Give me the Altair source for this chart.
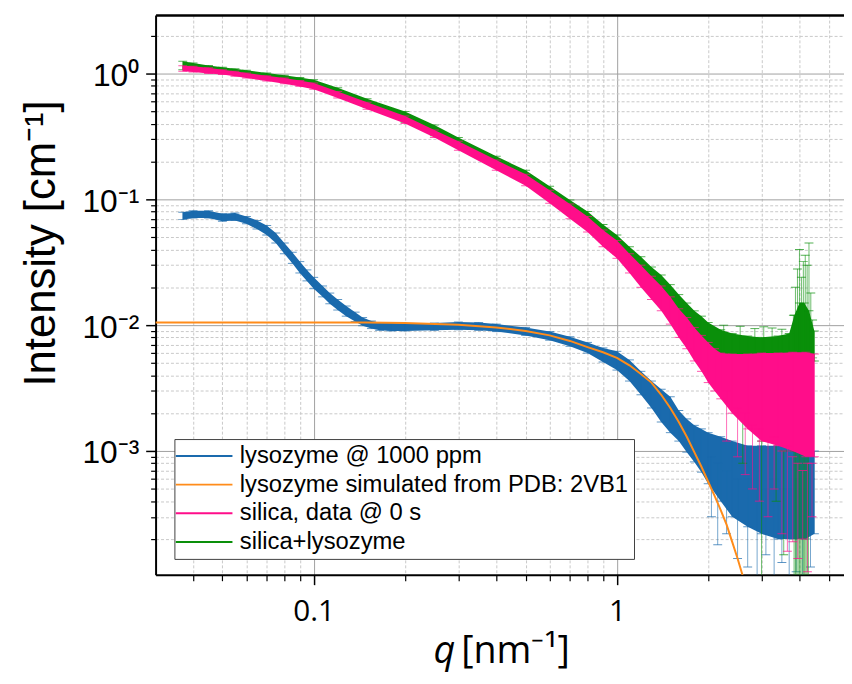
import altair as alt
import pandas as pd

SERIES = ["lysozyme @ 1000 ppm", "lysozyme simulated from PDB: 2VB1",
          "silica, data @ 0 s", "silica+lysozyme"]
COLORS = ["#1a6aad", "#ff8c1a", "#ff0d8a", "#0a8f0a"]

X_DOMAIN = [0.0301, 5.61]
Y_DOMAIN = [1.04e-4, 2.91]
X_MAJOR = [0.1, 1]
X_MINOR = [0.04, 0.05, 0.06, 0.07, 0.08, 0.09, 0.2, 0.3, 0.4, 0.5, 0.6, 0.7,
           0.8, 0.9, 2, 3, 4, 5]
Y_MAJOR = [0.001, 0.01, 0.1, 1]
Y_MINOR = [2e-4, 3e-4, 4e-4, 5e-4, 6e-4, 7e-4, 8e-4, 9e-4,
           2e-3, 3e-3, 4e-3, 5e-3, 6e-3, 7e-3, 8e-3, 9e-3,
           0.02, 0.03, 0.04, 0.05, 0.06, 0.07, 0.08, 0.09,
           0.2, 0.3, 0.4, 0.5, 0.6, 0.7, 0.8, 0.9, 2]

# lysozyme @ 1000 ppm (error band: low / high)
LYS_Q = [0.037, 0.040, 0.045, 0.050, 0.055, 0.060, 0.065, 0.070, 0.075, 0.080,
         0.085, 0.090, 0.095, 0.100, 0.107, 0.113, 0.120, 0.128, 0.137, 0.145,
         0.155, 0.165, 0.180, 0.200, 0.250, 0.300, 0.350, 0.400, 0.500, 0.600,
         0.700, 0.800, 0.900, 1.000, 1.100, 1.200, 1.300, 1.400, 1.500, 1.600,
         1.700, 1.800, 1.900, 2.000, 2.200, 2.400, 2.700, 3.000, 3.400, 3.800,
         4.200, 4.480]
LYS_LO = [0.069, 0.071, 0.071, 0.067, 0.068, 0.064, 0.058, 0.052, 0.045, 0.037,
          0.031, 0.026, 0.0225, 0.0195, 0.0168, 0.0148, 0.0132, 0.0118, 0.0107, 0.0099,
          0.0094, 0.0091, 0.0090, 0.0090, 0.0091, 0.0092, 0.0091, 0.0089, 0.0083, 0.0076,
          0.0068, 0.0060, 0.0051, 0.0044, 0.0036, 0.0028, 0.0022, 0.0017, 0.0014, 0.0012,
          0.00098, 0.00082, 0.00068, 0.00055, 0.00040, 0.00030, 0.00025, 0.00022, 0.00020, 0.00020,
          0.00020, 0.00022]
LYS_HI = [0.079, 0.081, 0.081, 0.077, 0.078, 0.073, 0.068, 0.062, 0.054, 0.045,
          0.038, 0.032, 0.0275, 0.0240, 0.0205, 0.0180, 0.0160, 0.0142, 0.0127, 0.0115,
          0.0108, 0.0105, 0.0104, 0.0103, 0.0104, 0.0106, 0.0105, 0.0102, 0.0096, 0.0089,
          0.0081, 0.0073, 0.0066, 0.0062, 0.0053, 0.0043, 0.0036, 0.0031, 0.0027, 0.0021,
          0.0018, 0.0016, 0.0015, 0.0014, 0.0013, 0.0012, 0.0011, 0.0011, 0.0011, 0.0011,
          0.0010, 0.0010]
LYS_OUT_Q = [2.05, 2.15, 2.30, 2.50, 2.70, 2.90, 3.10, 3.30, 3.50, 3.70, 3.90, 4.10, 4.35]
LYS_OUT_LO = [0.00030, 0.00018, 0.00022, 0.00014, 0.00012, 0.00010, 0.00015, 0.00010,
              0.00013, 0.00010, 0.00011, 0.00010, 0.00012]
LYS_OUT_HI = [0.0009, 0.0008, 0.0007, 0.0006, 0.0006, 0.0007, 0.0005, 0.0006,
              0.0005, 0.0005, 0.0006, 0.0005, 0.0006]

# lysozyme simulated from PDB: 2VB1
SIM_Q = [0.030, 0.050, 0.100, 0.150, 0.200, 0.300, 0.400, 0.500, 0.600, 0.700,
         0.800, 0.900, 1.000, 1.100, 1.200, 1.300, 1.400, 1.500, 1.600, 1.700,
         1.800, 1.900, 2.000, 2.100, 2.200, 2.300, 2.400, 2.500, 2.600, 2.700]
SIM_I = [0.0105, 0.0105, 0.0105, 0.0105, 0.0104, 0.0101, 0.0096, 0.0090, 0.0083, 0.0075,
         0.0067, 0.0061, 0.0055, 0.0048, 0.0041, 0.0035, 0.0028, 0.0022, 0.0017, 0.0013,
         0.00098, 0.00075, 0.00057, 0.00044, 0.00034, 0.00026, 0.00019, 0.00014, 0.000102, 0.000073]

# silica, data @ 0 s
SIL_Q = [0.037, 0.040, 0.045, 0.050, 0.055, 0.060, 0.070, 0.080, 0.090, 0.100,
         0.120, 0.150, 0.200, 0.250, 0.300, 0.400, 0.500, 0.600, 0.700, 0.800,
         0.900, 1.000, 1.100, 1.200, 1.300, 1.400, 1.500, 1.600, 1.700, 1.800,
         1.900, 2.000, 2.100, 2.200, 2.400, 2.700, 3.000, 3.400, 3.800, 4.200,
         4.480]
SIL_LO = [1.04, 1.03, 1.00, 0.98, 0.95, 0.92, 0.87, 0.83, 0.79, 0.75,
          0.64, 0.52, 0.40, 0.31, 0.245, 0.17, 0.128, 0.093, 0.070, 0.055,
          0.042, 0.034, 0.026, 0.020, 0.016, 0.013, 0.0102, 0.0080, 0.0065, 0.0052,
          0.0043, 0.0035, 0.0030, 0.0026, 0.0020, 0.0015, 0.0012, 0.0011, 0.0010, 0.0009,
          0.0009]
SIL_HI = [1.15, 1.14, 1.11, 1.07, 1.04, 1.01, 0.96, 0.92, 0.88, 0.84,
          0.72, 0.59, 0.46, 0.355, 0.29, 0.205, 0.158, 0.118, 0.092, 0.073,
          0.057, 0.047, 0.037, 0.030, 0.0245, 0.0205, 0.0168, 0.0135, 0.0115, 0.0096,
          0.0083, 0.0073, 0.0065, 0.0060, 0.0059, 0.0059, 0.0060, 0.0060, 0.0061, 0.0061,
          0.0059]
SIL_OUT_Q = [2.30, 2.50, 2.65, 2.80, 2.95, 3.15, 3.30, 3.50, 3.65, 3.80, 3.95, 4.10, 4.25, 4.40]
SIL_OUT_LO = [0.0012, 0.0009, 0.00065, 0.0005, 0.0004, 0.0003, 0.0005, 0.00022,
              0.00016, 0.00019, 0.00014, 0.0002, 0.00011, 0.0003]
SIL_OUT_HI = [0.0030, 0.0022, 0.0020, 0.0016, 0.0015, 0.0012, 0.0013, 0.0010,
              0.0011, 0.0009, 0.0008, 0.0007, 0.0008, 0.0008]

# silica+lysozyme
MIX_Q = [0.037, 0.040, 0.045, 0.050, 0.055, 0.060, 0.070, 0.080, 0.090, 0.100,
         0.120, 0.150, 0.200, 0.250, 0.300, 0.400, 0.500, 0.600, 0.700, 0.800,
         0.900, 1.000, 1.100, 1.200, 1.300, 1.400, 1.500, 1.600, 1.700, 1.800,
         1.900, 2.000, 2.200, 2.400, 2.700, 3.000, 3.400, 3.700, 3.850, 4.000,
         4.150, 4.300, 4.480]
MIX_LO = [1.07, 1.06, 1.04, 1.01, 0.98, 0.95, 0.90, 0.86, 0.82, 0.78,
          0.67, 0.54, 0.41, 0.32, 0.26, 0.18, 0.137, 0.100, 0.077, 0.060,
          0.046, 0.037, 0.029, 0.023, 0.0185, 0.0152, 0.0124, 0.0102, 0.0086, 0.0074,
          0.0066, 0.0060, 0.0055, 0.0053, 0.0052, 0.0052, 0.0052, 0.0052, 0.0048, 0.0046,
          0.0046, 0.0048, 0.0052]
MIX_HI = [1.25, 1.21, 1.16, 1.12, 1.09, 1.06, 1.01, 0.97, 0.93, 0.89,
          0.77, 0.63, 0.50, 0.39, 0.31, 0.22, 0.170, 0.127, 0.099, 0.080,
          0.063, 0.052, 0.042, 0.035, 0.029, 0.025, 0.021, 0.0175, 0.0150, 0.0130,
          0.0118, 0.0105, 0.0092, 0.0086, 0.0082, 0.0080, 0.0082, 0.0086, 0.0120, 0.0150,
          0.0150, 0.0130, 0.0090]
MIX_OUT_Q = [3.82, 3.88, 3.94, 4.00, 4.06, 4.12, 4.18, 4.24, 4.30, 4.36, 4.42,
             2.25, 2.55, 2.85, 3.05, 3.25, 3.50,
             3.84, 3.88, 3.92, 3.96, 4.00, 4.04, 4.08, 4.12, 4.16, 4.20, 4.24, 4.28,
             3.00, 3.55, 2.60, 3.35]
MIX_OUT_LO = [0.0055, 0.0050, 0.0050, 0.0048, 0.0048, 0.0046, 0.0046, 0.0048, 0.0050, 0.0052,
              0.0055,
              0.0058, 0.0060, 0.0058, 0.0060, 0.0058, 0.0060,
              0.00009, 0.00009, 0.00009, 0.00009, 0.00009, 0.00009, 0.00009, 0.00009,
              0.00009, 0.00009, 0.00009, 0.00009,
              0.00009, 0.00015, 0.0008, 0.0004]
MIX_OUT_HI = [0.0120, 0.0200, 0.0280, 0.0400, 0.0240, 0.0320, 0.0360, 0.0300, 0.0450, 0.0180,
              0.0110,
              0.0100, 0.0098, 0.0094, 0.0097, 0.0095, 0.0093,
              0.0010, 0.0011, 0.0010, 0.0012, 0.0011, 0.0010, 0.0012, 0.0011,
              0.0010, 0.0011, 0.0012, 0.0010,
              0.0012, 0.0010, 0.0030, 0.0015]


def band_df(name, q, lo, hi):
    return pd.DataFrame({"series": name, "q": q, "lo": lo, "hi": hi})


def caps_df(bars):
    a = bars[["series", "q", "lo"]].rename(columns={"lo": "v"})
    b = bars[["series", "q", "hi"]].rename(columns={"hi": "v"})
    return pd.concat([a, b], ignore_index=True)


XS = alt.Scale(type="log", domain=X_DOMAIN, nice=False)
YS = alt.Scale(type="log", domain=Y_DOMAIN, nice=False)
CS = alt.Scale(domain=SERIES, range=COLORS)
NOLEG = alt.Color("series:N", scale=CS, legend=None)

AX_X_MAJOR = alt.Axis(
    values=X_MAJOR, orient="bottom", labelExpr="datum.value < 0.5 ? '0.1' : '1'",
    grid=True, gridColor="#a0a0a0", gridWidth=1,
    domain=True, domainColor="black", domainWidth=2,
    ticks=True, tickColor="black", tickWidth=1.5, tickSize=10,
    labelFont="Open Sans", labelFontSize=30, labelColor="black", labelPadding=12,
    labelFlush=False, labelOverlap=False,
    title="q", titleFont="Open Sans", titleFontSize=38, titleFontStyle="italic",
    titleFontWeight="normal", titleColor="black", titleX=280, titleY=89,
    titleAlign="left", titleBaseline="alphabetic")
AX_X_MINOR = alt.Axis(
    values=X_MINOR, orient="bottom", grid=True, gridColor="#c8c8c8", gridDash=[3, 2],
    gridWidth=1, domain=False, ticks=True, tickColor="black", tickWidth=1.2, tickSize=6,
    labels=False,
    title="[nm⁻¹]", titleFont="Open Sans", titleFontSize=38, titleFontWeight="normal",
    titleColor="black", titleX=308, titleY=89, titleAlign="left",
    titleBaseline="alphabetic")
AX_X_TOP = alt.Axis(orient="top", grid=False, ticks=False, labels=False, domain=True,
                    domainColor="black", domainWidth=2.5, title=None)
AX_Y_MAJOR = alt.Axis(
    values=Y_MAJOR, orient="left",
    labelExpr="datum.value >= 0.5 ? '10⁰' : datum.value >= 0.05 ? '10⁻¹' : "
              "datum.value >= 0.005 ? '10⁻²' : '10⁻³'",
    grid=True, gridColor="#a0a0a0", gridWidth=1,
    domain=True, domainColor="black", domainWidth=2,
    ticks=True, tickColor="black", tickWidth=1.5, tickSize=10,
    labelFont="Liberation Sans", labelFontSize=32, labelColor="black", labelPadding=7,
    labelOffset=2, labelOverlap=False,
    title="Intensity [cm⁻¹]", titleFont="Liberation Sans", titleFontSize=44,
    titleFontWeight="normal", titleColor="black", titleX=-102, titleY=230,
    titleAngle=270, titleAlign="center", titleBaseline="alphabetic")
AX_Y_MINOR = alt.Axis(
    values=Y_MINOR, orient="left", grid=True, gridColor="#c8c8c8", gridDash=[3, 2],
    gridWidth=1, domain=False, ticks=True, tickColor="black", tickWidth=1.2, tickSize=5,
    labels=False, title=None)

LEGEND = alt.Legend(
    title=None, orient="none", legendX=19, legendY=428, direction="vertical",
    fillColor="white", strokeColor="#404040", padding=5, rowPadding=5,
    labelFont="Liberation Sans", labelFontSize=24, labelColor="black", labelLimit=600,
    symbolType="M-4.4,0H4.4", symbolSize=169, symbolStrokeWidth=2,
    symbolOffset=13, labelOffset=24, cornerRadius=0)


def series_layers(name, q, lo, hi, oq, olo, ohi, x_axis=None, y_axis=None):
    band = band_df(name, q, lo, hi)
    bars = pd.concat([band, band_df(name, oq, olo, ohi)], ignore_index=True)
    caps = caps_df(bars)
    area = alt.Chart(band).mark_area(clip=True, opacity=1).encode(
        x=alt.X("q:Q", scale=XS, axis=x_axis),
        y=alt.Y("lo:Q", scale=YS, axis=y_axis),
        y2="hi:Q", color=NOLEG)
    rules = alt.Chart(bars).mark_rule(clip=True, strokeWidth=1, opacity=0.6).encode(
        x=alt.X("q:Q", scale=XS, axis=None),
        y=alt.Y("lo:Q", scale=YS, axis=None),
        y2="hi:Q", color=NOLEG)
    ticks = alt.Chart(caps).mark_tick(clip=True, orient="horizontal", size=9,
                                      thickness=1, opacity=0.7).encode(
        x=alt.X("q:Q", scale=XS, axis=None),
        y=alt.Y("v:Q", scale=YS, axis=None),
        color=NOLEG)
    return [area, rules, ticks]


lys = series_layers(SERIES[0], LYS_Q, LYS_LO, LYS_HI, LYS_OUT_Q, LYS_OUT_LO, LYS_OUT_HI,
                    x_axis=AX_X_MAJOR, y_axis=AX_Y_MAJOR)
sim_df = pd.DataFrame({"series": SERIES[1], "q": SIM_Q, "i": SIM_I})
sim = alt.Chart(sim_df).mark_line(clip=True, strokeWidth=2).encode(
    x=alt.X("q:Q", scale=XS, axis=AX_X_MINOR),
    y=alt.Y("i:Q", scale=YS, axis=AX_Y_MINOR),
    color=alt.Color("series:N", scale=CS, legend=LEGEND))
mix = series_layers(SERIES[3], MIX_Q, MIX_LO, MIX_HI, MIX_OUT_Q, MIX_OUT_LO, MIX_OUT_HI,
                    x_axis=AX_X_TOP)
sil = series_layers(SERIES[2], SIL_Q, SIL_LO, SIL_HI, SIL_OUT_Q, SIL_OUT_LO, SIL_OUT_HI)

chart = alt.layer(*lys, sim, *mix, *sil).resolve_axis(
    x="independent", y="independent"
).resolve_legend(
    color="independent"
).properties(
    width=695, height=565,
    padding={"left": 149, "top": 4, "right": 0, "bottom": 96},
    autosize=alt.AutoSizeParams(type="none"),
    background="white",
).configure_view(stroke=None)

chart.save("out.html", embed_options={"renderer": "svg", "actions": False})
